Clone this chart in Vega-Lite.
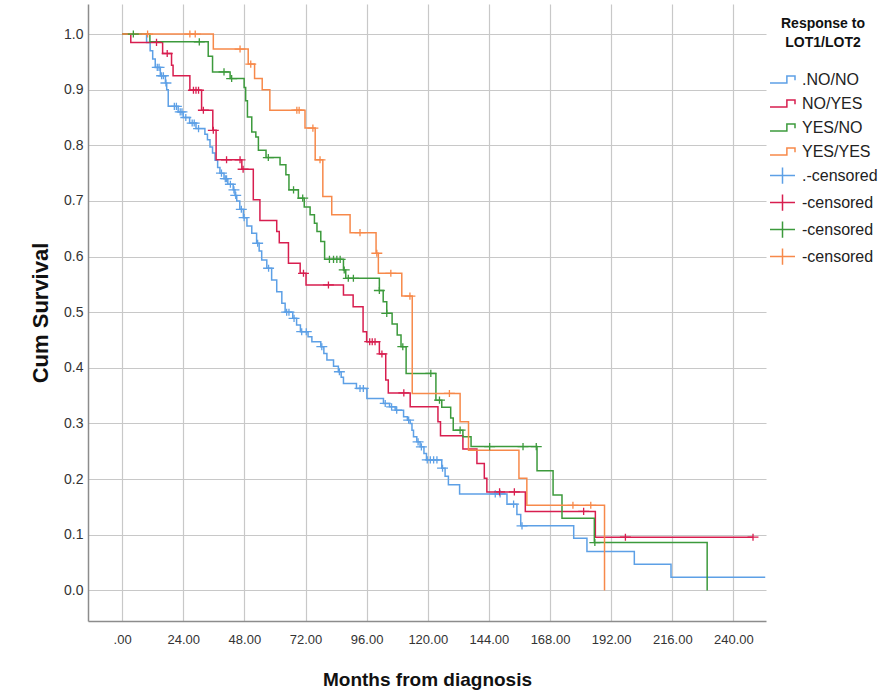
{
  "$schema": "https://vega.github.io/schema/vega-lite/v6.json",
  "width": 678,
  "height": 617,
  "autosize": "none",
  "padding": {"left": 88, "top": 4, "right": 127, "bottom": 74},
  "background": "white",
  "config": {"view": {"stroke": null}, "font": "Liberation Sans"},
  "datasets": {
    "curves": [
      {"key": ".NO/NO", "month": 0, "surv": 1},
      {"key": ".NO/NO", "month": 9.6, "surv": 0.985},
      {"key": ".NO/NO", "month": 11, "surv": 0.97},
      {"key": ".NO/NO", "month": 12, "surv": 0.955},
      {"key": ".NO/NO", "month": 13, "surv": 0.94},
      {"key": ".NO/NO", "month": 15, "surv": 0.925},
      {"key": ".NO/NO", "month": 17, "surv": 0.912},
      {"key": ".NO/NO", "month": 17.5, "surv": 0.9},
      {"key": ".NO/NO", "month": 18.1, "surv": 0.87},
      {"key": ".NO/NO", "month": 22, "surv": 0.86},
      {"key": ".NO/NO", "month": 24, "surv": 0.85},
      {"key": ".NO/NO", "month": 26.5, "surv": 0.84},
      {"key": ".NO/NO", "month": 29, "surv": 0.83},
      {"key": ".NO/NO", "month": 32.5, "surv": 0.82},
      {"key": ".NO/NO", "month": 33.5, "surv": 0.81},
      {"key": ".NO/NO", "month": 34.5, "surv": 0.797},
      {"key": ".NO/NO", "month": 35.5, "surv": 0.786},
      {"key": ".NO/NO", "month": 36.5, "surv": 0.773},
      {"key": ".NO/NO", "month": 37.5, "surv": 0.76},
      {"key": ".NO/NO", "month": 38.4, "surv": 0.75},
      {"key": ".NO/NO", "month": 40, "surv": 0.74},
      {"key": ".NO/NO", "month": 41.5, "surv": 0.73},
      {"key": ".NO/NO", "month": 43.6, "surv": 0.72},
      {"key": ".NO/NO", "month": 44.3, "surv": 0.71},
      {"key": ".NO/NO", "month": 45, "surv": 0.7},
      {"key": ".NO/NO", "month": 46.2, "surv": 0.685},
      {"key": ".NO/NO", "month": 47.6, "surv": 0.67},
      {"key": ".NO/NO", "month": 49, "surv": 0.655},
      {"key": ".NO/NO", "month": 50.9, "surv": 0.642},
      {"key": ".NO/NO", "month": 52.8, "surv": 0.624},
      {"key": ".NO/NO", "month": 53.8, "surv": 0.61},
      {"key": ".NO/NO", "month": 54.8, "surv": 0.594},
      {"key": ".NO/NO", "month": 56.8, "surv": 0.579},
      {"key": ".NO/NO", "month": 58.7, "surv": 0.558},
      {"key": ".NO/NO", "month": 60.7, "surv": 0.537},
      {"key": ".NO/NO", "month": 62.7, "surv": 0.516},
      {"key": ".NO/NO", "month": 64, "surv": 0.5},
      {"key": ".NO/NO", "month": 67, "surv": 0.489},
      {"key": ".NO/NO", "month": 68.5, "surv": 0.477},
      {"key": ".NO/NO", "month": 70, "surv": 0.465},
      {"key": ".NO/NO", "month": 73, "surv": 0.456},
      {"key": ".NO/NO", "month": 74.5, "surv": 0.447},
      {"key": ".NO/NO", "month": 78, "surv": 0.438},
      {"key": ".NO/NO", "month": 79.2, "surv": 0.426},
      {"key": ".NO/NO", "month": 80.4, "surv": 0.414},
      {"key": ".NO/NO", "month": 83, "surv": 0.403},
      {"key": ".NO/NO", "month": 84.9, "surv": 0.393},
      {"key": ".NO/NO", "month": 86, "surv": 0.383},
      {"key": ".NO/NO", "month": 86.9, "surv": 0.372},
      {"key": ".NO/NO", "month": 92, "surv": 0.363},
      {"key": ".NO/NO", "month": 96.1, "surv": 0.345},
      {"key": ".NO/NO", "month": 102.6, "surv": 0.336},
      {"key": ".NO/NO", "month": 105, "surv": 0.33},
      {"key": ".NO/NO", "month": 107.2, "surv": 0.324},
      {"key": ".NO/NO", "month": 110.5, "surv": 0.312},
      {"key": ".NO/NO", "month": 112, "surv": 0.306},
      {"key": ".NO/NO", "month": 113.1, "surv": 0.3},
      {"key": ".NO/NO", "month": 113.8, "surv": 0.288},
      {"key": ".NO/NO", "month": 114.4, "surv": 0.276},
      {"key": ".NO/NO", "month": 115.7, "surv": 0.267},
      {"key": ".NO/NO", "month": 117, "surv": 0.258},
      {"key": ".NO/NO", "month": 118.5, "surv": 0.246},
      {"key": ".NO/NO", "month": 119.5, "surv": 0.2345},
      {"key": ".NO/NO", "month": 125.5, "surv": 0.2196},
      {"key": ".NO/NO", "month": 126.8, "surv": 0.205},
      {"key": ".NO/NO", "month": 128.1, "surv": 0.19},
      {"key": ".NO/NO", "month": 132.5, "surv": 0.1734},
      {"key": ".NO/NO", "month": 151.1, "surv": 0.155},
      {"key": ".NO/NO", "month": 155, "surv": 0.1366},
      {"key": ".NO/NO", "month": 156.5, "surv": 0.116},
      {"key": ".NO/NO", "month": 177.3, "surv": 0.0938},
      {"key": ".NO/NO", "month": 182.5, "surv": 0.0697},
      {"key": ".NO/NO", "month": 201.1, "surv": 0.047},
      {"key": ".NO/NO", "month": 215.5, "surv": 0.0237},
      {"key": ".NO/NO", "month": 252.5, "surv": 0.0237},

      {"key": "NO/YES", "month": 0, "surv": 1},
      {"key": "NO/YES", "month": 3.4, "surv": 0.985},
      {"key": "NO/YES", "month": 15.9, "surv": 0.965},
      {"key": "NO/YES", "month": 19.4, "surv": 0.944},
      {"key": "NO/YES", "month": 20, "surv": 0.925},
      {"key": "NO/YES", "month": 26.6, "surv": 0.899},
      {"key": "NO/YES", "month": 31.2, "surv": 0.863},
      {"key": "NO/YES", "month": 35.6, "surv": 0.827},
      {"key": "NO/YES", "month": 36.9, "surv": 0.774},
      {"key": "NO/YES", "month": 47, "surv": 0.757},
      {"key": "NO/YES", "month": 51.5, "surv": 0.702},
      {"key": "NO/YES", "month": 54.1, "surv": 0.665},
      {"key": "NO/YES", "month": 60.7, "surv": 0.645},
      {"key": "NO/YES", "month": 61.7, "surv": 0.625},
      {"key": "NO/YES", "month": 65.3, "surv": 0.588},
      {"key": "NO/YES", "month": 69.9, "surv": 0.57},
      {"key": "NO/YES", "month": 72.2, "surv": 0.549},
      {"key": "NO/YES", "month": 86.9, "surv": 0.531},
      {"key": "NO/YES", "month": 90.7, "surv": 0.51},
      {"key": "NO/YES", "month": 94.6, "surv": 0.465},
      {"key": "NO/YES", "month": 96, "surv": 0.447},
      {"key": "NO/YES", "month": 101, "surv": 0.425},
      {"key": "NO/YES", "month": 103.5, "surv": 0.378},
      {"key": "NO/YES", "month": 104.5, "surv": 0.355},
      {"key": "NO/YES", "month": 113.1, "surv": 0.33},
      {"key": "NO/YES", "month": 124, "surv": 0.303},
      {"key": "NO/YES", "month": 125, "surv": 0.278},
      {"key": "NO/YES", "month": 133.8, "surv": 0.254},
      {"key": "NO/YES", "month": 139.3, "surv": 0.228},
      {"key": "NO/YES", "month": 142.2, "surv": 0.2016},
      {"key": "NO/YES", "month": 143.2, "surv": 0.177},
      {"key": "NO/YES", "month": 158.3, "surv": 0.142},
      {"key": "NO/YES", "month": 185.8, "surv": 0.0956},
      {"key": "NO/YES", "month": 247.7, "surv": 0.0956},

      {"key": "YES/NO", "month": 0, "surv": 1},
      {"key": "YES/NO", "month": 10.9, "surv": 0.986},
      {"key": "YES/NO", "month": 33.8, "surv": 0.96},
      {"key": "YES/NO", "month": 35.5, "surv": 0.932},
      {"key": "YES/NO", "month": 42.4, "surv": 0.92},
      {"key": "YES/NO", "month": 47.9, "surv": 0.904},
      {"key": "YES/NO", "month": 48.5, "surv": 0.88},
      {"key": "YES/NO", "month": 49.2, "surv": 0.851},
      {"key": "YES/NO", "month": 50.9, "surv": 0.824},
      {"key": "YES/NO", "month": 52.5, "surv": 0.815},
      {"key": "YES/NO", "month": 53.5, "surv": 0.791},
      {"key": "YES/NO", "month": 56.5, "surv": 0.778},
      {"key": "YES/NO", "month": 62, "surv": 0.765},
      {"key": "YES/NO", "month": 64.3, "surv": 0.747},
      {"key": "YES/NO", "month": 65.5, "surv": 0.72},
      {"key": "YES/NO", "month": 69.2, "surv": 0.705},
      {"key": "YES/NO", "month": 71.5, "surv": 0.689},
      {"key": "YES/NO", "month": 73.8, "surv": 0.675},
      {"key": "YES/NO", "month": 75.5, "surv": 0.66},
      {"key": "YES/NO", "month": 76.5, "surv": 0.645},
      {"key": "YES/NO", "month": 78, "surv": 0.627},
      {"key": "YES/NO", "month": 79.5, "surv": 0.595},
      {"key": "YES/NO", "month": 86.9, "surv": 0.576},
      {"key": "YES/NO", "month": 87.8, "surv": 0.561},
      {"key": "YES/NO", "month": 101, "surv": 0.539},
      {"key": "YES/NO", "month": 102.5, "surv": 0.519},
      {"key": "YES/NO", "month": 103.9, "surv": 0.498},
      {"key": "YES/NO", "month": 106, "surv": 0.479},
      {"key": "YES/NO", "month": 108, "surv": 0.459},
      {"key": "YES/NO", "month": 109.5, "surv": 0.438},
      {"key": "YES/NO", "month": 111.5, "surv": 0.39},
      {"key": "YES/NO", "month": 123.2, "surv": 0.342},
      {"key": "YES/NO", "month": 125.5, "surv": 0.329},
      {"key": "YES/NO", "month": 129, "surv": 0.31},
      {"key": "YES/NO", "month": 130, "surv": 0.288},
      {"key": "YES/NO", "month": 133.8, "surv": 0.276},
      {"key": "YES/NO", "month": 137, "surv": 0.2585},
      {"key": "YES/NO", "month": 162.9, "surv": 0.215},
      {"key": "YES/NO", "month": 169.2, "surv": 0.1716},
      {"key": "YES/NO", "month": 172.7, "surv": 0.1297},
      {"key": "YES/NO", "month": 185.4, "surv": 0.086},
      {"key": "YES/NO", "month": 229.7, "surv": 0},

      {"key": "YES/YES", "month": 0, "surv": 1},
      {"key": "YES/YES", "month": 35.8, "surv": 0.973},
      {"key": "YES/YES", "month": 49.5, "surv": 0.946},
      {"key": "YES/YES", "month": 52, "surv": 0.92},
      {"key": "YES/YES", "month": 55, "surv": 0.9},
      {"key": "YES/YES", "month": 58, "surv": 0.863},
      {"key": "YES/YES", "month": 71.8, "surv": 0.831},
      {"key": "YES/YES", "month": 75.8, "surv": 0.774},
      {"key": "YES/YES", "month": 78.8, "surv": 0.708},
      {"key": "YES/YES", "month": 82.3, "surv": 0.675},
      {"key": "YES/YES", "month": 89.5, "surv": 0.643},
      {"key": "YES/YES", "month": 99.7, "surv": 0.606},
      {"key": "YES/YES", "month": 100.6, "surv": 0.57},
      {"key": "YES/YES", "month": 109.8, "surv": 0.529},
      {"key": "YES/YES", "month": 113.9, "surv": 0.354},
      {"key": "YES/YES", "month": 132.7, "surv": 0.303},
      {"key": "YES/YES", "month": 136, "surv": 0.252},
      {"key": "YES/YES", "month": 155.8, "surv": 0.2016},
      {"key": "YES/YES", "month": 158.9, "surv": 0.153},
      {"key": "YES/YES", "month": 189.4, "surv": 0}
    ],
    "censored": [
      {"key": "cNO/NO", "month": 13.8, "surv": 0.94},
      {"key": "cNO/NO", "month": 14.5, "surv": 0.94},
      {"key": "cNO/NO", "month": 15.5, "surv": 0.925},
      {"key": "cNO/NO", "month": 16.2, "surv": 0.925},
      {"key": "cNO/NO", "month": 17.2, "surv": 0.912},
      {"key": "cNO/NO", "month": 20.5, "surv": 0.87},
      {"key": "cNO/NO", "month": 21.3, "surv": 0.87},
      {"key": "cNO/NO", "month": 22.8, "surv": 0.86},
      {"key": "cNO/NO", "month": 23.5, "surv": 0.86},
      {"key": "cNO/NO", "month": 25, "surv": 0.85},
      {"key": "cNO/NO", "month": 27.5, "surv": 0.84},
      {"key": "cNO/NO", "month": 28.3, "surv": 0.84},
      {"key": "cNO/NO", "month": 30, "surv": 0.83},
      {"key": "cNO/NO", "month": 39, "surv": 0.75},
      {"key": "cNO/NO", "month": 40.5, "surv": 0.74},
      {"key": "cNO/NO", "month": 41, "surv": 0.74},
      {"key": "cNO/NO", "month": 42.5, "surv": 0.73},
      {"key": "cNO/NO", "month": 43.9, "surv": 0.72},
      {"key": "cNO/NO", "month": 44.6, "surv": 0.71},
      {"key": "cNO/NO", "month": 46.8, "surv": 0.685},
      {"key": "cNO/NO", "month": 47.9, "surv": 0.67},
      {"key": "cNO/NO", "month": 53.2, "surv": 0.624},
      {"key": "cNO/NO", "month": 57.5, "surv": 0.579},
      {"key": "cNO/NO", "month": 64.6, "surv": 0.5},
      {"key": "cNO/NO", "month": 65.5, "surv": 0.5},
      {"key": "cNO/NO", "month": 67.5, "surv": 0.489},
      {"key": "cNO/NO", "month": 70.5, "surv": 0.465},
      {"key": "cNO/NO", "month": 72.3, "surv": 0.465},
      {"key": "cNO/NO", "month": 78.4, "surv": 0.438},
      {"key": "cNO/NO", "month": 85.3, "surv": 0.393},
      {"key": "cNO/NO", "month": 93.4, "surv": 0.363},
      {"key": "cNO/NO", "month": 94.7, "surv": 0.363},
      {"key": "cNO/NO", "month": 103.3, "surv": 0.336},
      {"key": "cNO/NO", "month": 105.8, "surv": 0.33},
      {"key": "cNO/NO", "month": 107.8, "surv": 0.324},
      {"key": "cNO/NO", "month": 112.5, "surv": 0.306},
      {"key": "cNO/NO", "month": 116.2, "surv": 0.267},
      {"key": "cNO/NO", "month": 117.5, "surv": 0.258},
      {"key": "cNO/NO", "month": 119.8, "surv": 0.2345},
      {"key": "cNO/NO", "month": 121, "surv": 0.2345},
      {"key": "cNO/NO", "month": 122.3, "surv": 0.2345},
      {"key": "cNO/NO", "month": 123.6, "surv": 0.2345},
      {"key": "cNO/NO", "month": 125.8, "surv": 0.2196},
      {"key": "cNO/NO", "month": 146.5, "surv": 0.1734},
      {"key": "cNO/NO", "month": 148.4, "surv": 0.1734},
      {"key": "cNO/NO", "month": 153.7, "surv": 0.155},
      {"key": "cNO/NO", "month": 157, "surv": 0.116},

      {"key": "cNO/YES", "month": 13.5, "surv": 0.985},
      {"key": "cNO/YES", "month": 17.7, "surv": 0.965},
      {"key": "cNO/YES", "month": 28, "surv": 0.899},
      {"key": "cNO/YES", "month": 29, "surv": 0.899},
      {"key": "cNO/YES", "month": 30, "surv": 0.899},
      {"key": "cNO/YES", "month": 31.9, "surv": 0.863},
      {"key": "cNO/YES", "month": 35.8, "surv": 0.827},
      {"key": "cNO/YES", "month": 41, "surv": 0.774},
      {"key": "cNO/YES", "month": 46.3, "surv": 0.774},
      {"key": "cNO/YES", "month": 47.5, "surv": 0.757},
      {"key": "cNO/YES", "month": 71.2, "surv": 0.57},
      {"key": "cNO/YES", "month": 81, "surv": 0.549},
      {"key": "cNO/YES", "month": 97.2, "surv": 0.447},
      {"key": "cNO/YES", "month": 98.2, "surv": 0.447},
      {"key": "cNO/YES", "month": 99.3, "surv": 0.447},
      {"key": "cNO/YES", "month": 102, "surv": 0.425},
      {"key": "cNO/YES", "month": 110.6, "surv": 0.355},
      {"key": "cNO/YES", "month": 148.2, "surv": 0.177},
      {"key": "cNO/YES", "month": 154, "surv": 0.177},
      {"key": "cNO/YES", "month": 181.2, "surv": 0.142},
      {"key": "cNO/YES", "month": 197.6, "surv": 0.0956},
      {"key": "cNO/YES", "month": 247.7, "surv": 0.0956},

      {"key": "cYES/NO", "month": 4.4, "surv": 1},
      {"key": "cYES/NO", "month": 30.3, "surv": 0.986},
      {"key": "cYES/NO", "month": 40, "surv": 0.932},
      {"key": "cYES/NO", "month": 43, "surv": 0.92},
      {"key": "cYES/NO", "month": 57.4, "surv": 0.778},
      {"key": "cYES/NO", "month": 67.3, "surv": 0.72},
      {"key": "cYES/NO", "month": 70.9, "surv": 0.705},
      {"key": "cYES/NO", "month": 81.4, "surv": 0.595},
      {"key": "cYES/NO", "month": 83, "surv": 0.595},
      {"key": "cYES/NO", "month": 84.3, "surv": 0.595},
      {"key": "cYES/NO", "month": 85.6, "surv": 0.595},
      {"key": "cYES/NO", "month": 87.2, "surv": 0.576},
      {"key": "cYES/NO", "month": 88.8, "surv": 0.561},
      {"key": "cYES/NO", "month": 90.8, "surv": 0.561},
      {"key": "cYES/NO", "month": 101, "surv": 0.539},
      {"key": "cYES/NO", "month": 103.9, "surv": 0.498},
      {"key": "cYES/NO", "month": 110.2, "surv": 0.438},
      {"key": "cYES/NO", "month": 121.2, "surv": 0.39},
      {"key": "cYES/NO", "month": 124.6, "surv": 0.342},
      {"key": "cYES/NO", "month": 132.7, "surv": 0.288},
      {"key": "cYES/NO", "month": 144.3, "surv": 0.2585},
      {"key": "cYES/NO", "month": 157.4, "surv": 0.2585},
      {"key": "cYES/NO", "month": 162.6, "surv": 0.2585},
      {"key": "cYES/NO", "month": 185.6, "surv": 0.086},

      {"key": "cYES/YES", "month": 10, "surv": 1},
      {"key": "cYES/YES", "month": 26.6, "surv": 1},
      {"key": "cYES/YES", "month": 28.7, "surv": 1},
      {"key": "cYES/YES", "month": 46.3, "surv": 0.973},
      {"key": "cYES/YES", "month": 50.5, "surv": 0.946},
      {"key": "cYES/YES", "month": 68.6, "surv": 0.863},
      {"key": "cYES/YES", "month": 69.5, "surv": 0.863},
      {"key": "cYES/YES", "month": 74.9, "surv": 0.831},
      {"key": "cYES/YES", "month": 77.7, "surv": 0.774},
      {"key": "cYES/YES", "month": 93.4, "surv": 0.643},
      {"key": "cYES/YES", "month": 100, "surv": 0.606},
      {"key": "cYES/YES", "month": 105.5, "surv": 0.57},
      {"key": "cYES/YES", "month": 113, "surv": 0.529},
      {"key": "cYES/YES", "month": 128.5, "surv": 0.354},
      {"key": "cYES/YES", "month": 177, "surv": 0.153},
      {"key": "cYES/YES", "month": 184, "surv": 0.153}
    ]
  },
  "layer": [
    {
      "data": {"name": "curves"},
      "mark": {"type": "line", "interpolate": "step-after", "strokeWidth": 1.5, "clip": true},
      "encoding": {
        "x": {"field": "month", "type": "quantitative"},
        "y": {"field": "surv", "type": "quantitative"},
        "color": {"field": "key", "type": "nominal"}
      }
    },
    {
      "data": {"name": "censored"},
      "mark": {"type": "point", "filled": false, "strokeWidth": 1.3, "size": 120, "opacity": 1, "clip": true},
      "encoding": {
        "x": {
          "field": "month", "type": "quantitative",
          "scale": {"domain": [-13.4, 252.8], "nice": false, "zero": false},
          "axis": {
            "title": "Months from diagnosis",
            "values": [0, 24, 48, 72, 96, 120, 144, 168, 192, 216, 240],
            "labelExpr": "datum.value == 0 ? '.00' : format(datum.value, '.2f')",
            "grid": true, "gridColor": "#c8c8c8", "gridWidth": 1.2,
            "ticks": false, "domainColor": "#8c8c8c", "domainWidth": 1.5,
            "labelFont": "Liberation Sans", "labelFontSize": 13, "labelColor": "#333333", "labelPadding": 12,
            "titleFont": "Liberation Sans", "titleFontSize": 19, "titleFontWeight": "bold", "titleColor": "#111111", "titlePadding": 24
          }
        },
        "y": {
          "field": "surv", "type": "quantitative",
          "scale": {"domain": [-0.055, 1.054], "nice": false, "zero": false},
          "axis": {
            "title": "Cum Survival",
            "values": [0, 0.1, 0.2, 0.3, 0.4, 0.5, 0.6, 0.7, 0.8, 0.9, 1.0],
            "format": ".1f",
            "grid": true, "gridColor": "#c8c8c8", "gridWidth": 1.2,
            "ticks": false, "domainColor": "#8c8c8c", "domainWidth": 1.5,
            "labelFont": "Liberation Sans", "labelFontSize": 14, "labelColor": "#333333", "labelPadding": 5,
            "titleFont": "Liberation Sans", "titleFontSize": 22, "titleFontWeight": "bold", "titleColor": "#111111", "titlePadding": 11
          }
        },
        "color": {
          "field": "key", "type": "nominal",
          "scale": {
            "domain": [".NO/NO", "NO/YES", "YES/NO", "YES/YES", "cNO/NO", "cNO/YES", "cYES/NO", "cYES/YES"],
            "range": ["#5da0e6", "#d81e4f", "#3c9a3c", "#f7894a", "#5da0e6", "#d81e4f", "#3c9a3c", "#f7894a"]
          },
          "legend": {
            "title": ["Response to", "LOT1/LOT2"],
            "orient": "none", "legendX": 681, "legendY": 13,
            "titleFont": "Liberation Sans", "titleFontSize": 14, "titleFontWeight": "bold", "titleColor": "#111111",
            "titleAnchor": "middle", "titleAlign": "center", "titleLineHeight": 19, "titlePadding": 16,
            "labelFont": "Liberation Sans", "labelFontSize": 16, "labelColor": "#222222", "labelOffset": 6,
            "labelExpr": "datum.label == 'cNO/NO' ? '.-censored' : (slice(datum.label, 0, 1) == 'c' ? '-censored' : datum.label)",
            "symbolSize": 625, "symbolStrokeWidth": 1.5, "rowPadding": 2, "padding": 0
          }
        },
        "shape": {
          "field": "key", "type": "nominal",
          "scale": {
            "domain": [".NO/NO", "NO/YES", "YES/NO", "YES/YES", "cNO/NO", "cNO/YES", "cYES/NO", "cYES/YES"],
            "range": ["M-1,0.28H0.35V-0.28H1V0.05", "M-1,0.28H0.35V-0.28H1V0.05", "M-1,0.28H0.35V-0.28H1V0.05", "M-1,0.28H0.35V-0.28H1V0.05", "M-1,0H1M0,-0.65V0.65", "M-1,0H1M0,-0.65V0.65", "M-1,0H1M0,-0.65V0.65", "M-1,0H1M0,-0.65V0.65"]
          },
          "legend": {
            "title": ["Response to", "LOT1/LOT2"],
            "orient": "none", "legendX": 681, "legendY": 13,
            "titleFont": "Liberation Sans", "titleFontSize": 14, "titleFontWeight": "bold", "titleColor": "#111111",
            "titleAnchor": "middle", "titleAlign": "center", "titleLineHeight": 19, "titlePadding": 16,
            "labelFont": "Liberation Sans", "labelFontSize": 16, "labelColor": "#222222", "labelOffset": 6,
            "labelExpr": "datum.label == 'cNO/NO' ? '.-censored' : (slice(datum.label, 0, 1) == 'c' ? '-censored' : datum.label)",
            "symbolSize": 625, "symbolStrokeWidth": 1.5, "rowPadding": 2, "padding": 0
          }
        }
      }
    }
  ]
}
